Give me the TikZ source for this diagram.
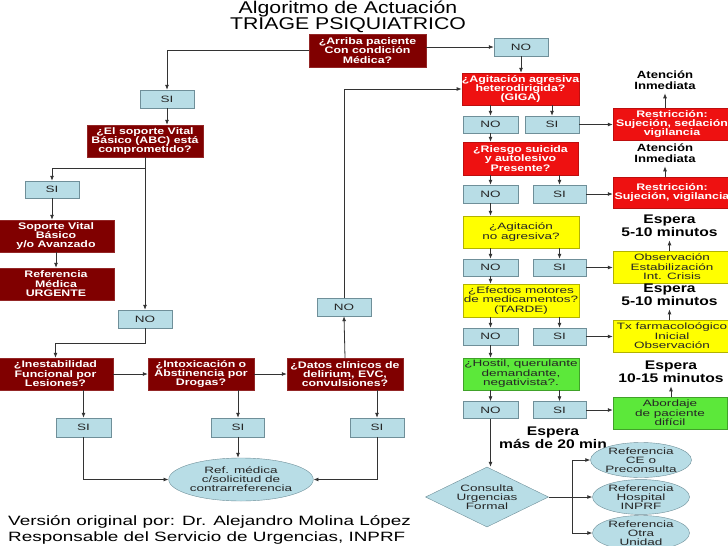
\documentclass[tikz,border=0pt]{standalone}
\usepackage{fontspec}
\setmainfont{Liberation Sans}[FakeStretch=1.25]
\newfontfamily\bxfont{Liberation Sans}[FakeStretch=1.47]
\newfontfamily\bdfont{Liberation Sans}[FakeStretch=1.3]
\newfontfamily\ftfont{Liberation Sans}[FakeStretch=1.4]
\usetikzlibrary{arrows.meta,shapes.geometric}
\definecolor{dred}{HTML}{800000}
\definecolor{bred}{HTML}{EE1111}
\definecolor{lblue}{HTML}{B8DDE6}
\definecolor{lbord}{HTML}{6F8F99}
\definecolor{yel}{HTML}{FFFF00}
\definecolor{grn}{HTML}{5CE83A}
\definecolor{lnc}{HTML}{333333}
\tikzset{
  base/.style={rectangle, inner sep=0pt, align=center, font=\bxfont\fontsize{9.2}{9.4}\selectfont},
  dbox/.style={base, fill=dred, draw=dred!85!white, text=white, font=\bdfont\fontsize{9.5}{9.4}\selectfont\bfseries, minimum width=#1},
  rbox/.style={base, fill=bred, draw=bred!80!black, text=white, font=\bdfont\fontsize{9.5}{9.4}\selectfont\bfseries, minimum width=115, minimum height=32},
  ybox/.style={base, fill=yel, draw=yel!70!black, text=black!85, minimum width=116, minimum height=32},
  gbox/.style={base, fill=grn, draw=grn!70!black, text=black!85, minimum width=116, minimum height=32},
  bbox/.style={base, fill=lblue, draw=lbord, text=black!85, minimum width=54, minimum height=18},
  ell/.style={ellipse, inner sep=0pt, align=center, fill=lblue, draw=lbord, text=black!85, font=\bxfont\fontsize{9.2}{9}\selectfont},
  lab/.style={align=center, inner sep=1pt, font=\fontsize{10.5}{10.5}\selectfont\bfseries},
  lab2/.style={align=center, inner sep=1pt, font=\fontsize{12.5}{11.5}\selectfont\bfseries},
  arr/.style={-{Latex[length=5pt,width=4pt]}, draw=lnc, line width=0.8pt},
  ln/.style={draw=lnc, line width=0.8pt}
}
\begin{document}
\begin{tikzpicture}[x=1pt,y=-1pt]
\useasboundingbox[fill=white] (0,0) rectangle (728,546);
% title
\node[align=center, font=\fontsize{17}{16}\selectfont] (title) at (348,17) {Algoritmo de Actuación\\TRIAGE PSIQUIATRICO};
% left column
\node[dbox=117, minimum height=33] (q1) at (367.5,50.5) {¿Arriba paciente\\Con condición\\Médica?};
\node[bbox] (notop) at (521,47) {NO};
\node[bbox] (sitop) at (167,99) {SI};
\node[dbox=116, minimum height=32] (q2) at (145,141) {¿El soporte Vital\\Básico (ABC) está\\comprometido?};
\node[bbox, minimum height=17] (sileft) at (52,189.5) {SI};
\node[dbox=116, minimum height=32] (sop) at (56,236) {Soporte Vital\\Básico\\y/o Avanzado};
\node[dbox=116, minimum height=32] (refurg) at (56,284) {Referencia\\Médica\\URGENTE};
\node[bbox] (nomid) at (145,319) {NO};
\node[dbox=115, minimum height=32] (inest) at (55.5,374) {¿Inestabilidad\\Funcional por\\Lesiones?};
\node[dbox=106, minimum height=32] (intox) at (201,374) {¿Intoxicación o\\Abstinencia por\\Drogas?};
\node[dbox=116, minimum height=32] (datos) at (345,374) {¿Datos clínicos de\\delirium, EVC,\\convulsiones?};
\node[bbox] (nor) at (344,307) {NO};
\node[bbox, minimum width=55, minimum height=19] (sia) at (83.5,427.5) {SI};
\node[bbox, minimum width=53, minimum height=19] (sib) at (238,427.5) {SI};
\node[bbox, minimum height=19] (sic) at (377,427.5) {SI};
\node[ell, minimum width=122, minimum height=43] (refmed) at (241,479.5) {Ref. médica\\c/solicitud de\\contrarreferencia};
% right column
\node[rbox] (giga) at (520.5,89) {¿Agitación agresiva\\heterodirigida?\\(GIGA)};
\node[bbox, minimum width=55, minimum height=17] (no1) at (490.5,124.5) {NO};
\node[bbox, minimum height=17] (si1) at (552,124.5) {SI};
\node[rbox, minimum width=118] (r1) at (672,124) {Restricción:\\Sujeción, sedación\\vigilancia};
\node[lab] (a1) at (665,80) {Atención\\Inmediata};
\node[rbox, minimum height=33] (ries) at (520.5,158.5) {¿Riesgo suicida\\y autolesivo\\Presente?};
\node[bbox, minimum width=55] (no2) at (490.5,194) {NO};
\node[bbox, minimum width=53] (si2) at (559.5,194) {SI};
\node[rbox, minimum width=118, minimum height=31] (r2) at (672,192.5) {Restricción:\\Sujeción, vigilancia};
\node[lab] (a2) at (665,153) {Atención\\Inmediata};
\node[ybox] (y1) at (521,232) {¿Agitación\\no agresiva?};
\node[bbox, minimum width=55, minimum height=17] (no3) at (490.5,267.5) {NO};
\node[bbox, minimum width=53, minimum height=17] (si3) at (559.5,267.5) {SI};
\node[ybox, minimum width=118] (o1) at (672,267) {Observación\\Estabilización\\Int. Crisis};
\node[lab2] (e1) at (669.5,225.5) {Espera\\5-10 minutos};
\node[ybox, minimum height=33] (y2) at (521,300.5) {¿Efectos motores\\de medicamentos?\\(TARDE)};
\node[bbox, minimum width=55, minimum height=17] (no4) at (490.5,336.5) {NO};
\node[bbox, minimum width=53, minimum height=17] (si4) at (559.5,336.5) {SI};
\node[ybox, minimum width=118] (t1) at (672,336) {Tx farmacoloógico\\Inicial\\Observación};
\node[lab2] (e2) at (669.5,294.5) {Espera\\5-10 minutos};
\node[gbox] (g1) at (521,374) {¿Hostil, querulante\\demandante,\\negativista?.};
\node[bbox, minimum width=55, minimum height=17] (no5) at (490.5,410) {NO};
\node[bbox, minimum width=53, minimum height=17] (si5) at (559.5,410) {SI};
\node[gbox, minimum width=114] (ab) at (670,413) {Abordaje\\de paciente\\difícil};
\node[lab2] (e3) at (671,371.5) {Espera\\10-15 minutos};
\node[diamond, aspect=2.05, inner sep=0pt, minimum width=123, minimum height=60, align=center, fill=lblue, draw=lbord, text=black!85, font=\bxfont\fontsize{9.2}{9}\selectfont] (dia) at (487,497) {Consulta\\Urgencias\\Formal};
\node[lab2] (e4) at (553,438) {Espera\\más de 20 min};
\node[ell, minimum width=97, minimum height=29] (ref1) at (641,460) {Referencia\\CE o\\Preconsulta};
\node[ell, minimum width=97, minimum height=30] (ref2) at (641,497) {Referencia\\Hospital\\INPRF};
\node[ell, minimum width=97, minimum height=32] (ref3) at (641,533) {Referencia\\Otra\\Unidad};
\coordinate (jn) at (572,497);
% footer
\node[anchor=west, align=left, inner sep=0pt, font=\ftfont\fontsize{13.5}{16}\selectfont] (foot) at (8,530) {Versión original por: Dr. Alejandro Molina López\\Responsable del Servicio de Urgencias, INPRF};
% connectors left
\draw[arr] (q1.east |- notop.west) -- (notop.west);
\draw[arr] (q1.west) -| (sitop.north);
\draw[arr] (sitop.south) -- (sitop.south |- q2.north);
\draw[arr] (q2.south) -- ++(0,11) -| (sileft.north);
\draw[arr] (q2.south) -- (nomid.north);
\draw[arr] (sileft.south) -- (sileft.south |- sop.north);
\draw[arr] (sop.south) -- (refurg.north);
\draw[arr] (nomid.south) -- ++(0,15) -| (inest.north);
\draw[arr] (inest.east) -- (intox.west);
\draw[arr] (intox.east) -- (datos.west);
\draw[arr] (datos.north) -- (nor.south);
\draw[arr] (nor.north) |- (giga.west);
\draw[arr] (inest.south -| sia.north) -- (sia.north);
\draw[arr] (intox.south -| sib.north) -- (sib.north);
\draw[arr] (datos.south -| sic.north) -- (sic.north);
\draw[arr] (sia.south) |- (refmed.west);
\draw[arr] (sib.south) -- (sib.south |- refmed.north);
\draw[arr] (sic.south) |- (refmed.east);
% connectors right
\draw[arr] (notop.south) -- (notop.south |- giga.north);
\draw[arr] (giga.south -| no1.north) -- (no1.north);
\draw[arr] (giga.south -| si1.north) -- (si1.north);
\draw[arr] (si1.east) -- (si1.east -| r1.west);
\draw[arr] (r1.north -| a1.south) -- ([yshift=-3pt]a1.south);
\draw[arr] (no1.south) -- (no1.south |- ries.north);
\draw[arr] (ries.south -| no2.north) -- (no2.north);
\draw[arr] (ries.south -| si2.north) -- (si2.north);
\draw[arr] (si2.east) -- (si2.east -| r2.west);
\draw[arr] (r2.north -| a2.south) -- ([yshift=-3pt]a2.south);
\draw[arr] (no2.south) -- (no2.south |- y1.north);
\draw[arr] (y1.south -| no3.north) -- (no3.north);
\draw[arr] (y1.south -| si3.north) -- (si3.north);
\draw[arr] (si3.east) -- (si3.east -| o1.west);
\draw[arr] (o1.north -| e1.south) -- ([yshift=-3pt]e1.south);
\draw[arr] (no3.south) -- (no3.south |- y2.north);
\draw[arr] (y2.south -| no4.north) -- (no4.north);
\draw[arr] (y2.south -| si4.north) -- (si4.north);
\draw[arr] (si4.east) -- (si4.east -| t1.west);
\draw[arr] (t1.north -| e2.south) -- ([yshift=-3pt]e2.south);
\draw[arr] (no4.south) -- (no4.south |- g1.north);
\draw[arr] (g1.south -| no5.north) -- (no5.north);
\draw[arr] (g1.south -| si5.north) -- (si5.north);
\draw[arr] (si5.east) -- (si5.east -| ab.west);
\draw[arr] (ab.north -| e3.south) -- ([yshift=-3pt]e3.south);
\draw[arr] (no5.south) -- (no5.south |- dia.north);
\draw[ln] (dia.east) -- (jn);
\draw[arr] (jn) |- (ref1.west);
\draw[arr] (jn) -- (ref2.west);
\draw[arr] (jn) |- (ref3.west);
\end{tikzpicture}
\end{document}
